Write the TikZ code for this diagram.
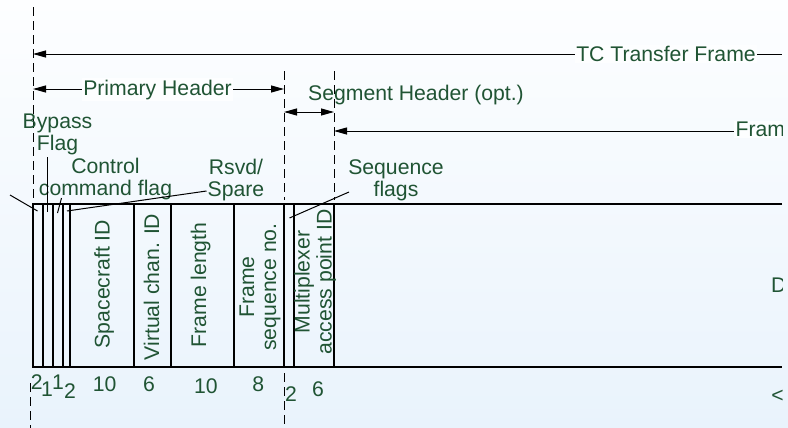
\documentclass[tikz,border=0pt]{standalone}
\usepackage{fontspec}
\setmainfont{Liberation Sans}
\usetikzlibrary{arrows.meta}
\definecolor{labelgreen}{RGB}{32,84,52}
\definecolor{bgtop}{RGB}{253,254,255}
\definecolor{bgbottom}{RGB}{233,243,252}

\begin{document}
\begin{tikzpicture}[x=0.5pt,y=-0.5pt,
    font=\fontsize{10.6}{11}\selectfont,
    >={Triangle[length=6.5pt,width=3.5pt]},
    every node/.style={text=labelgreen,inner sep=0pt},
    lbl/.style={anchor=base,align=center},
    vlbl/.style={anchor=base,align=center,rotate=90},
    boxed/.style={lbl,fill=bgtop,inner sep=0.6pt},
    guide/.style={line width=0.5pt,dash pattern=on 4.5pt off 2.5pt},
    span/.style={line width=0.5pt},
    lead/.style={line width=0.5pt},
    field/.style={line width=0.9pt}]
  \useasboundingbox (0,0) rectangle (788,428);
  \shade[top color=bgtop,bottom color=bgbottom] (0,0) rectangle (788,428);

  \begin{scope}
  \clip (0,0) rectangle (782,428);

  % dashed guides
  \draw[guide] (33,7) -- (33,204);
  \draw[guide] (284,71) -- (284,200);
  \draw[guide] (334,71) -- (334,200);
  \draw[guide] (30,383) -- (30,428);
  \draw[guide] (284,373) -- (284,428);

  % frame and header spans
  \coordinate (tcL) at (33,54);
  \coordinate (tcR) at (782,54);
  \node[boxed] (tc) at (666,61.5) {TC Transfer Frame};
  \draw[span,<-] (tcL) -- (tcL -| tc.west);
  \draw[span] (tc.east |- tcR) -- (tcR);

  \coordinate (phL) at (33,89);
  \coordinate (phR) at (284,89);
  \node[boxed] (ph) at (157.5,95) {Primary Header};
  \draw[span,<-] (phL) -- (phL -| ph.west);
  \draw[span,->] (phR -| ph.east) -- (phR);

  \coordinate (shL) at (284,112);
  \coordinate (shR) at (334,112);
  \node[lbl] (sh) at (416,100) {Segment Header (opt.)};
  \draw[span,<->] (shL) -- (shR);

  \coordinate (dfL) at (334,131);
  \node[boxed,anchor=base west] (df) at (734,136.7) {Fram};
  \draw[span,<-] (dfL) -- (dfL -| df.west);

  % the frame fields
  \draw[field] (782,204) -- (33,204) -- (33,367) -- (782,367);
  \foreach \x in {42.7,52.7,62.7,70,133.7,171,234,284,294,334.3}
    \draw[field] (\x,204) -- (\x,367);

  \node[vlbl] (scid) at (109.5,284) {Spacecraft ID};
  \node[vlbl] (vcid) at (159,287) {Virtual chan. ID};
  \node[vlbl] (flen) at (206,285) {Frame length};
  \node[vlbl] (fseq) at (276,287) {Frame\\sequence no.};
  \node[vlbl] (map) at (331.5,282) {Multiplexer\\access point ID};
  \node[lbl,anchor=base west] (data) at (770.7,292) {D};

  % bit counts
  \foreach \x/\y/\n in {36.7/389/2,47/396/1,58/389/1,70/398/2,104.7/391/10,
      149/391/6,205.8/393/10,258.3/391/8,291/401.5/2,318/396/6}
    \node[lbl] (bits\n) at (\x,\y) {\n};
  \node[lbl,anchor=base west] (len) at (771,402.3) {<};

  % flag labels and their leaders
  \node[lbl] (byp) at (57.5,150) {Bypass\\Flag};
  \node[lbl] (ccf) at (105.5,195) {Control\\command flag};
  \node[lbl] (rsvd) at (236,196) {Rsvd/\\Spare};
  \node[lbl] (seqf) at (396,196) {Sequence\\flags};

  \coordinate (vnA) at (10,195);
  \coordinate (vnB) at (37.5,211);
  \coordinate (bypA) at (47.7,157);
  \coordinate (bypB) at (47.7,212);
  \coordinate (ccfA) at (61.5,198);
  \coordinate (ccfB) at (57.5,213);
  \coordinate (rsvdA) at (206.5,191);
  \coordinate (rsvdB) at (67,211);
  \coordinate (seqfA) at (349,192);
  \coordinate (seqfB) at (289.5,218);
  \draw[lead] (vnA) -- (vnB);
  \draw[lead] (bypA) -- (bypB);
  \draw[lead] (ccfA) -- (ccfB);
  \draw[lead] (rsvdA) -- (rsvdB);
  \draw[lead] (seqfA) -- (seqfB);
  \end{scope}
\end{tikzpicture}
\end{document}
